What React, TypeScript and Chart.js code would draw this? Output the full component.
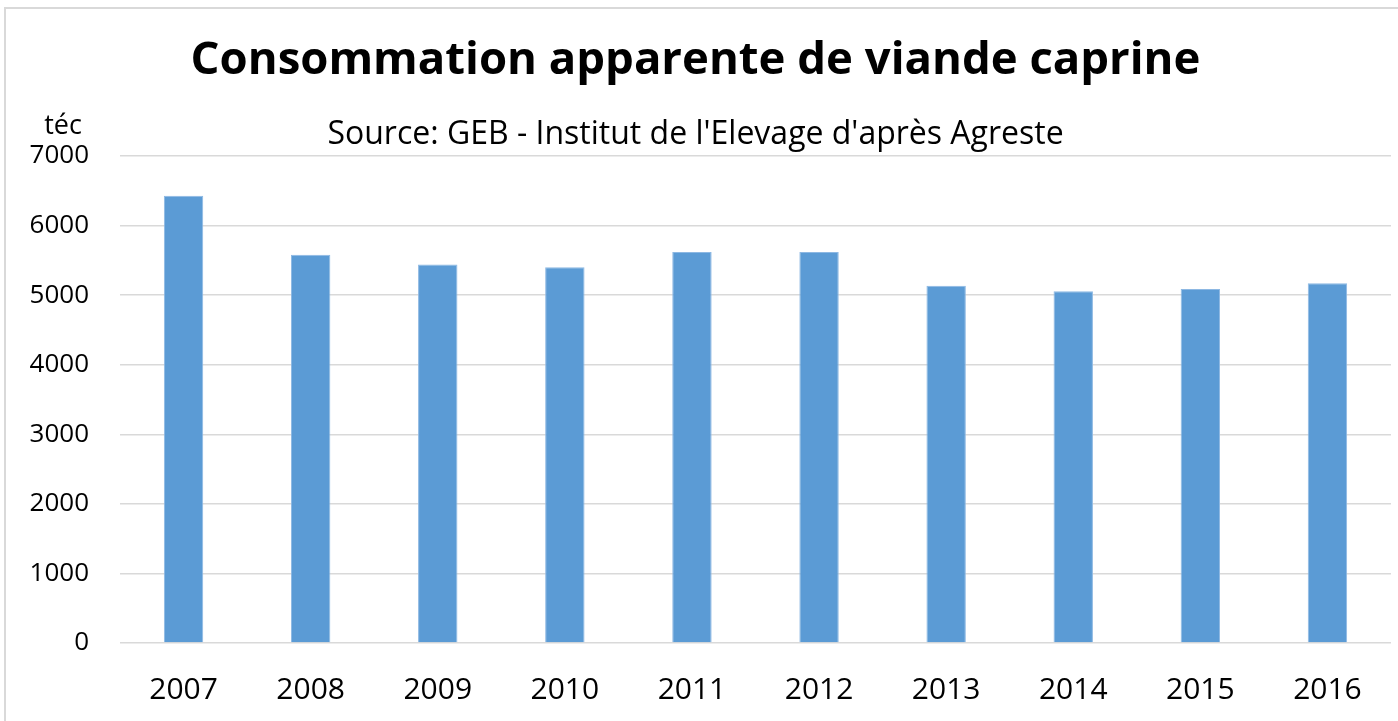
import React, { useEffect, useRef } from "react";
import { Chart, registerables } from "chart.js";

Chart.register(...registerables);

const years = ["2007", "2008", "2009", "2010", "2011", "2012", "2013", "2014", "2015", "2016"];
const consommation = [6430, 5580, 5440, 5400, 5620, 5620, 5135, 5055, 5090, 5170];
const yTicks = [0, 1000, 2000, 3000, 4000, 5000, 6000, 7000];
const titleText = "Consommation apparente de viande caprine";
const subtitleText = "Source: GEB - Institut de l'Elevage d'après Agreste";
const unitText = "téc";

const FONT = "'Open Sans', 'Noto Sans', sans-serif";

const unitPlugin = {
  id: "unitLabel",
  afterDraw(chart: any) {
    const { ctx, chartArea } = chart;
    ctx.save();
    ctx.font = `27px ${FONT}`;
    ctx.fillStyle = "#000";
    ctx.textAlign = "center";
    ctx.textBaseline = "alphabetic";
    ctx.fillText(unitText, 63, chartArea.top - 22);
    ctx.restore();
  },
};

export default function App() {
  const ref = useRef<HTMLCanvasElement>(null);
  useEffect(() => {
    if (!ref.current) return;
    const chart = new Chart(ref.current, {
      type: "bar",
      data: {
        labels: years,
        datasets: [
          {
            data: consommation,
            backgroundColor: "#5B9BD5",
            borderColor: "#8DB8E3",
            borderWidth: 1,
            categoryPercentage: 1,
            barPercentage: 0.31,
          },
        ],
      },
      options: {
        animation: false,
        responsive: false,
        layout: { padding: { left: 0, right: 7, top: 0, bottom: 0 } },
        plugins: {
          legend: { display: false },
          tooltip: { enabled: false },
          title: {
            display: true,
            text: titleText,
            color: "#000",
            font: { family: FONT, size: 45.5, weight: "bold", lineHeight: 1.2 },
            padding: { top: 34, bottom: 27 },
          },
          subtitle: {
            display: true,
            text: subtitleText,
            color: "#000",
            font: { family: FONT, size: 32, lineHeight: 1.2 },
            padding: { top: 0, bottom: 2 },
          },
        },
        scales: {
          x: {
            grid: { display: false, drawTicks: false },
            border: { display: false },
            ticks: { color: "#000", font: { family: FONT, size: 30 }, padding: 29, maxRotation: 0 },
            afterFit: (scale: any) => {
              scale.height = 78;
            },
          },
          y: {
            min: 0,
            max: 7000,
            afterBuildTicks: (axis: any) => {
              axis.ticks = yTicks.map((v) => ({ value: v }));
            },
            afterFit: (scale: any) => {
              scale.width = 120;
            },
            ticks: {
              color: "#000",
              font: { family: FONT, size: 26 },
              padding: 31,
              callback: (v: any) => String(v),
            },
            grid: { color: "#D9D9D9", lineWidth: 1.5, drawTicks: false },
            border: { display: false },
          },
        },
      },
      plugins: [unitPlugin],
    });
    return () => chart.destroy();
  }, []);
  return (
    <div style={{ position: "fixed", left: 0, top: 0, width: 1398, height: 721, background: "#fff" }}>
      <div
        style={{
          position: "absolute",
          left: 4,
          top: 7,
          width: 1400,
          height: 720,
          borderLeft: "2px solid #D9D9D9",
          borderTop: "2px solid #D9D9D9",
        }}
      />
      <canvas ref={ref} width={1398} height={721} style={{ position: "absolute", left: 0, top: 0 }} />
    </div>
  );
}
